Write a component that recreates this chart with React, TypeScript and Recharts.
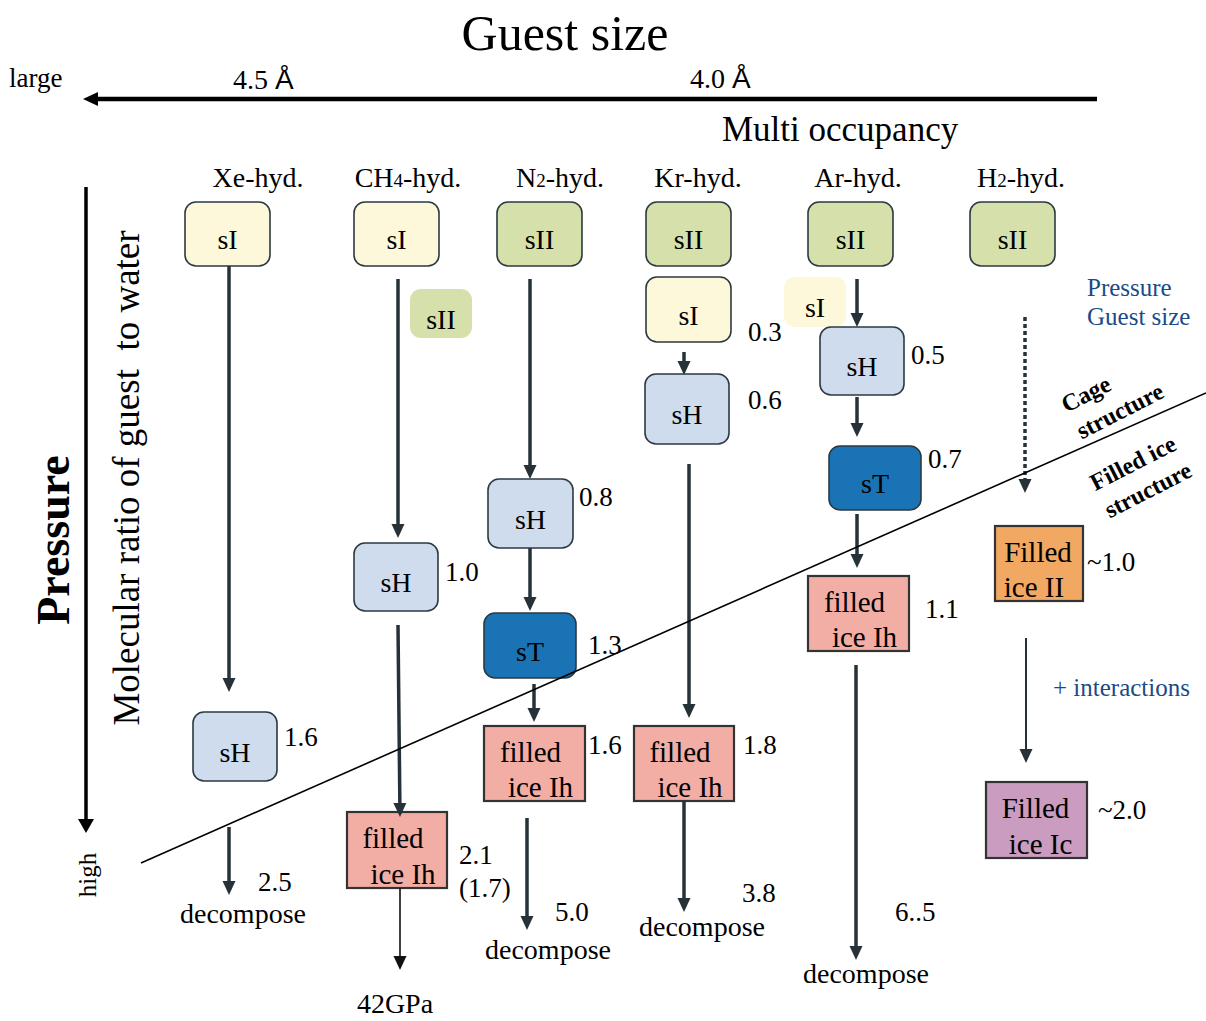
import React from "react";
import {
  ScatterChart,
  Scatter,
  XAxis,
  YAxis,
  ReferenceArea,
  ReferenceLine,
} from "recharts";

// the diagram is laid out on a plane the size of the reference picture
const W = 1206;
const H = 1021;

const SERIF = '"Liberation Serif", "Times New Roman", serif';
const SANS = '"Liberation Sans", Arial, sans-serif';
const INK = "#263238";
const BLUE = "#1b4a87";

const fills: Record<string, string> = {
  sI: "#fef8da",
  sII: "#d6e0aa",
  sH: "#cfdcee",
  sT: "#1a73b5",
  Ih: "#f2ada4",
  II: "#f0a862",
  Ic: "#c99cc0",
};

// cage-structure hydrates (rounded boxes)
const cageBoxes = [
  { kind: "sI", x0: 185, x1: 270, y0: 202, y1: 266, edge: true },
  { kind: "sI", x0: 354, x1: 439, y0: 202, y1: 266, edge: true },
  { kind: "sII", x0: 497, x1: 582, y0: 202, y1: 266, edge: true },
  { kind: "sII", x0: 646, x1: 731, y0: 202, y1: 266, edge: true },
  { kind: "sII", x0: 808, x1: 893, y0: 202, y1: 266, edge: true },
  { kind: "sII", x0: 970, x1: 1055, y0: 202, y1: 266, edge: true },
  { kind: "sII", x0: 410, x1: 472, y0: 289, y1: 338, edge: false },
  { kind: "sI", x0: 646, x1: 731, y0: 277, y1: 342, edge: true },
  { kind: "sI", x0: 784, x1: 846, y0: 277, y1: 327, edge: false },
  { kind: "sH", x0: 645, x1: 729, y0: 374, y1: 444, edge: true },
  { kind: "sH", x0: 820, x1: 904, y0: 327, y1: 395, edge: true },
  { kind: "sT", x0: 829, x1: 921, y0: 446, y1: 510, edge: true },
  { kind: "sH", x0: 488, x1: 573, y0: 479, y1: 548, edge: true },
  { kind: "sH", x0: 354, x1: 438, y0: 543, y1: 611, edge: true },
  { kind: "sT", x0: 484, x1: 576, y0: 613, y1: 678, edge: true },
  { kind: "sH", x0: 193, x1: 277, y0: 712, y1: 781, edge: true },
];

// filled-ice structures (square boxes, two text lines with small offsets)
const iceBoxes = [
  { kind: "Ih", top: "filled", bottom: "ice Ih", dx: [-4, 6], x0: 808, x1: 909, y0: 576, y1: 651 },
  { kind: "II", top: "Filled", bottom: "ice II", dx: [-1, -5], x0: 995, x1: 1083, y0: 526, y1: 601 },
  { kind: "Ih", top: "filled", bottom: "ice Ih", dx: [-4, 6], x0: 484, x1: 585, y0: 726, y1: 801 },
  { kind: "Ih", top: "filled", bottom: "ice Ih", dx: [-4, 6], x0: 634, x1: 734, y0: 726, y1: 801 },
  { kind: "Ih", top: "filled", bottom: "ice Ih", dx: [-4, 6], x0: 347, x1: 447, y0: 812, y1: 888 },
  { kind: "Ic", top: "Filled", bottom: "ice Ic", dx: [-1, 4], x0: 986, x1: 1087, y0: 782, y1: 858 },
];

// transition arrows, tip at (x2, y2)
const flowArrows = [
  { x1: 229, y1: 266, x2: 229, y2: 692 },
  { x1: 229, y1: 827, x2: 229, y2: 895 },
  { x1: 398, y1: 279, x2: 398, y2: 538 },
  { x1: 398, y1: 625, x2: 400, y2: 817 },
  { x1: 400, y1: 888, x2: 400, y2: 970, w: 1.6, color: "#111" },
  { x1: 530, y1: 279, x2: 530, y2: 479 },
  { x1: 530, y1: 548, x2: 530, y2: 611 },
  { x1: 534, y1: 684, x2: 534, y2: 722 },
  { x1: 527, y1: 818, x2: 527, y2: 930 },
  { x1: 684, y1: 352, x2: 684, y2: 375 },
  { x1: 689, y1: 464, x2: 689, y2: 718 },
  { x1: 684, y1: 801, x2: 684, y2: 912 },
  { x1: 857, y1: 279, x2: 857, y2: 327 },
  { x1: 857, y1: 397, x2: 857, y2: 437 },
  { x1: 857, y1: 514, x2: 857, y2: 568 },
  { x1: 856, y1: 665, x2: 856, y2: 960 },
  { x1: 1025, y1: 317, x2: 1025, y2: 493, dash: "4 3" },
  { x1: 1026, y1: 638, x2: 1026, y2: 763, w: 2 },
];

// the two axis arrows
const axisArrows = [
  { x1: 1097, y1: 99, x2: 83, y2: 99, w: 4.5, color: "#000", head: 15, half: 7 },
  { x1: 86, y1: 187, x2: 86, y2: 833, w: 3.5, color: "#000", head: 14, half: 8 },
];

// boundary between cage and filled-ice structures
const divider = [
  { x: 141, y: 863 },
  { x: 1206, y: 393 },
];

const headers = [
  { x: 258, y: 187, t: [{ t: "Xe-hyd." }] },
  { x: 408, y: 187, t: [{ t: "CH" }, { t: "4", size: 19 }, { t: "-hyd." }] },
  { x: 560, y: 187, t: [{ t: "N" }, { t: "2", size: 19 }, { t: "-hyd." }] },
  { x: 698, y: 187, t: [{ t: "Kr-hyd." }] },
  { x: 858, y: 187, t: [{ t: "Ar-hyd." }] },
  { x: 1021, y: 187, t: [{ t: "H" }, { t: "2", size: 19 }, { t: "-hyd." }] },
];

// guest/water ratios
const ratios = [
  { x: 748, y: 341, t: "0.3" },
  { x: 748, y: 409, t: "0.6" },
  { x: 911, y: 364, t: "0.5" },
  { x: 928, y: 468, t: "0.7" },
  { x: 579, y: 506, t: "0.8" },
  { x: 445, y: 581, t: "1.0" },
  { x: 925, y: 618, t: "1.1" },
  { x: 1087, y: 571, t: "~1.0" },
  { x: 588, y: 654, t: "1.3" },
  { x: 284, y: 746, t: "1.6" },
  { x: 588, y: 754, t: "1.6" },
  { x: 743, y: 754, t: "1.8" },
  { x: 1098, y: 819, t: "~2.0" },
  { x: 459, y: 864, t: "2.1" },
  { x: 459, y: 897, t: "(1.7)" },
  { x: 258, y: 891, t: "2.5" },
  { x: 742, y: 902, t: "3.8" },
  { x: 555, y: 921, t: "5.0" },
  { x: 895, y: 921, t: "6..5" },
];

const endings = [
  { x: 243, y: 923, t: "decompose" },
  { x: 548, y: 959, t: "decompose" },
  { x: 702, y: 936, t: "decompose" },
  { x: 866, y: 983, t: "decompose" },
  { x: 395, y: 1013, t: "42GPa" },
];

const titles = [
  { x: 565, y: 50, t: "Guest size", size: 50, anchor: "middle" },
  { x: 9, y: 87, t: "large", size: 27 },
  { x: 233, y: 89, t: [{ t: "4.5 " }, { t: "Å", family: SANS }], size: 28 },
  { x: 690, y: 88, t: [{ t: "4.0 " }, { t: "Å", family: SANS }], size: 28 },
  { x: 722, y: 141, t: "Multi occupancy", size: 35 },
  { x: 69, y: 540, t: "Pressure", size: 46, weight: "bold", rotate: -90, anchor: "middle" },
  { x: 139, y: 478, t: "Molecular ratio of guest\u00a0 to water", size: 37, rotate: -90, anchor: "middle" },
  { x: 96, y: 875, t: "high", size: 25, rotate: -90, anchor: "middle" },
];

const notes = [
  { x: 1087, y: 296, t: "Pressure" },
  { x: 1087, y: 325, t: "Guest size" },
  { x: 1053, y: 696, t: "+ interactions" },
];

const regions = [
  { x: 1086, y: 394, t: "Cage" },
  { x: 1120, y: 411, t: "structure" },
  { x: 1133, y: 463, t: "Filled ice" },
  { x: 1148, y: 490, t: "structure" },
];

const allTexts = [
  ...titles,
  ...headers.map((h) => ({ ...h, size: 28, anchor: "middle" })),
  ...ratios.map((r) => ({ ...r, size: 27 })),
  ...endings.map((e) => ({ ...e, size: 28, anchor: "middle" })),
  ...notes.map((n) => ({ ...n, size: 25, fill: BLUE })),
  ...regions.map((r) => ({
    ...r,
    size: 24,
    weight: "bold",
    rotate: -27,
    anchor: "middle",
    baseline: "central",
  })),
];

type Part = { t: string; size?: number; family?: string };

const TextMark = (props: any) => {
  const { cx, cy, payload: d } = props;
  if (cx == null || cy == null || !d) return null;
  const parts: Part[] = typeof d.t === "string" ? [{ t: d.t }] : d.t;
  return (
    <text
      x={cx}
      y={cy}
      textAnchor={d.anchor ?? "start"}
      dominantBaseline={d.baseline ?? "alphabetic"}
      fontSize={d.size}
      fontFamily={SERIF}
      fontWeight={d.weight ?? "normal"}
      fill={d.fill ?? "#000"}
      transform={d.rotate ? `rotate(${d.rotate} ${cx} ${cy})` : undefined}
    >
      {parts.map((s, i) => (
        <tspan key={i} fontSize={s.size} fontFamily={s.family}>
          {s.t}
        </tspan>
      ))}
    </text>
  );
};

const arrowShape = (a: any) => (p: any) => {
  const { x1, y1, x2, y2 } = p;
  const len = Math.hypot(x2 - x1, y2 - y1) || 1;
  const ux = (x2 - x1) / len;
  const uy = (y2 - y1) / len;
  const L = a.head ?? 14;
  const hw = a.half ?? 6.5;
  const bx = x2 - ux * L;
  const by = y2 - uy * L;
  const color = a.color ?? INK;
  return (
    <g>
      <line
        x1={x1}
        y1={y1}
        x2={bx + ux}
        y2={by + uy}
        stroke={color}
        strokeWidth={a.w ?? 3.5}
        strokeDasharray={a.dash}
      />
      <polygon
        points={`${x2},${y2} ${bx - uy * hw},${by + ux * hw} ${bx + uy * hw},${by - ux * hw}`}
        fill={color}
      />
    </g>
  );
};

const cageShape = (b: any) => (p: any) => {
  const { x, y, width, height } = p;
  return (
    <g>
      <rect
        x={x}
        y={y}
        width={width}
        height={height}
        rx={11}
        ry={11}
        fill={fills[b.kind]}
        stroke={b.edge ? "#2b3a42" : "none"}
        strokeWidth={1.6}
      />
      <text
        x={x + width / 2}
        y={y + height / 2 + 15}
        textAnchor="middle"
        fontSize={28}
        fontFamily={SERIF}
        fill="#000"
      >
        {b.kind}
      </text>
    </g>
  );
};

const iceShape = (b: any) => (p: any) => {
  const { x, y, width, height } = p;
  const mid = x + width / 2;
  return (
    <g>
      <rect
        x={x}
        y={y}
        width={width}
        height={height}
        fill={fills[b.kind]}
        stroke="#333"
        strokeWidth={2.2}
      />
      <text textAnchor="middle" fontSize={29} fontFamily={SERIF} fill="#000">
        <tspan x={mid + b.dx[0]} y={y + height * 0.48}>
          {b.top}
        </tspan>
        <tspan x={mid + b.dx[1]} y={y + height * 0.95}>
          {b.bottom}
        </tspan>
      </text>
    </g>
  );
};

export default function App() {
  return (
    <div style={{ position: "absolute", left: 0, top: 0, background: "#fff" }}>
      <ScatterChart
        width={W}
        height={H}
        margin={{ top: 0, right: 0, bottom: 0, left: 0 }}
      >
        <XAxis type="number" dataKey="x" domain={[0, W]} hide allowDataOverflow />
        <YAxis
          type="number"
          dataKey="y"
          domain={[0, H]}
          reversed
          hide
          allowDataOverflow
        />
        {cageBoxes.map((b, i) => (
          <ReferenceArea
            key={`c${i}`}
            x1={b.x0}
            x2={b.x1}
            y1={b.y0}
            y2={b.y1}
            ifOverflow="visible"
            shape={cageShape(b)}
          />
        ))}
        {iceBoxes.map((b, i) => (
          <ReferenceArea
            key={`f${i}`}
            x1={b.x0}
            x2={b.x1}
            y1={b.y0}
            y2={b.y1}
            ifOverflow="visible"
            shape={iceShape(b)}
          />
        ))}
        {[...flowArrows, ...axisArrows].map((a, i) => (
          <ReferenceLine
            key={`a${i}`}
            segment={[
              { x: a.x1, y: a.y1 },
              { x: a.x2, y: a.y2 },
            ]}
            ifOverflow="visible"
            shape={arrowShape(a)}
          />
        ))}
        <ReferenceLine
          segment={divider}
          ifOverflow="visible"
          stroke="#000"
          strokeWidth={1.6}
        />
        <Scatter
          data={allTexts}
          shape={TextMark}
          isAnimationActive={false}
        />
      </ScatterChart>
    </div>
  );
}
